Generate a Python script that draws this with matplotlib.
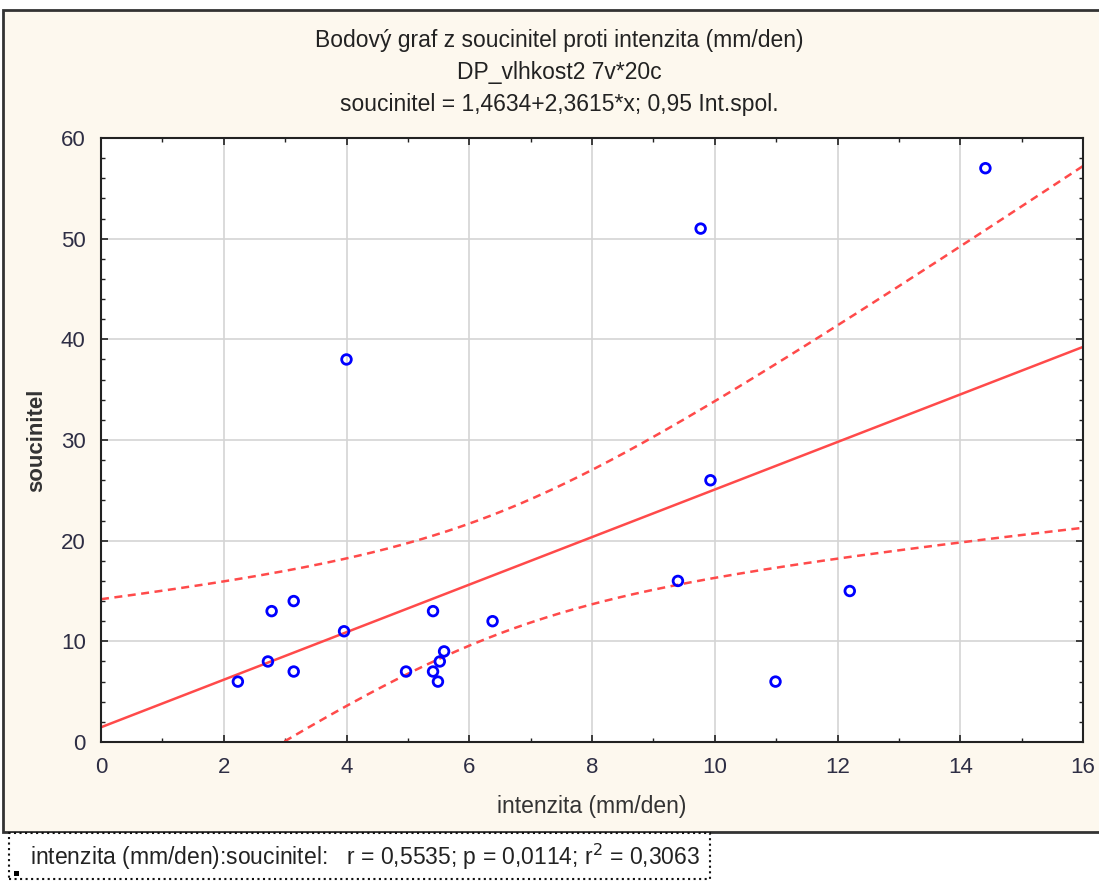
import numpy as np
import matplotlib.pyplot as plt
from matplotlib.patches import Rectangle
from matplotlib.ticker import MultipleLocator

# data (20 cases)
intenzita = [2.23, 2.72, 2.78, 3.14, 3.14, 3.96, 4.0, 4.97, 5.41, 5.41,
             5.49, 5.52, 5.59, 6.38, 9.40, 9.77, 9.93, 10.99, 12.2, 14.41]
soucinitel = [6, 8, 13, 14, 7, 11, 38, 7, 13, 7,
              6, 8, 9, 12, 16, 51, 26, 6, 15, 57]

# coefficients from the chart title
b0, b1 = 1.4634, 2.3615

plt.rcParams['font.family'] = ['Liberation Sans', 'DejaVu Sans']

x = np.array(intenzita)
y = np.array(soucinitel)
n = len(x)

# 95% confidence band of the mean
xs = np.linspace(0, 16, 200)
yfit = b0 + b1 * xs
resid = y - (b0 + b1 * x)
s = np.sqrt(np.sum(resid ** 2) / (n - 2))
sxx = np.sum((x - x.mean()) ** 2)
t = 2.1009
half = t * s * np.sqrt(1 / n + (xs - x.mean()) ** 2 / sxx)

fig = plt.figure(figsize=(10.99, 8.82), dpi=100)
fig.patch.set_facecolor('white')

# cream panel with border
fig.patches.append(Rectangle((3 / 1099, 1 - 832 / 882), 1.1, (832 - 10) / 882,
                             transform=fig.transFigure, facecolor='#fdf8ee',
                             edgecolor='#333333', linewidth=2, zorder=-10))

ax = fig.add_axes([101 / 1099, 1 - 742 / 882, (1083 - 101) / 1099, (742 - 138) / 882])
ax.set_facecolor('white')

red = '#ff4a4a'
ax.plot(xs, yfit, color=red, linewidth=1.8)
ax.plot(xs, yfit + half, color=red, linewidth=1.8, linestyle=(0, (3.2, 2.2)))
ax.plot(xs, yfit - half, color=red, linewidth=1.8, linestyle=(0, (3.2, 2.2)))
ax.scatter(x, y, s=48, facecolors='none', edgecolors='#0000ff', linewidths=2, zorder=3)

ax.set_xlim(0, 16)
ax.set_ylim(0, 60)
ax.xaxis.set_major_locator(MultipleLocator(2))
ax.xaxis.set_minor_locator(MultipleLocator(1))
ax.yaxis.set_major_locator(MultipleLocator(10))
ax.yaxis.set_minor_locator(MultipleLocator(2))
ax.grid(True, which='major', color='#d4d4d4', linewidth=1.2)
ax.set_axisbelow(True)
ax.tick_params(which='both', direction='in', top=True, right=True, color='#222222')
ax.tick_params(which='major', length=5, width=1.2)
ax.tick_params(which='minor', length=3, width=1)
ax.tick_params(axis='both', labelsize=16, labelcolor='#2e2e44')
ax.tick_params(axis='y', pad=11)
ax.tick_params(axis='x', pad=11)
for sp in ax.spines.values():
    sp.set_linewidth(1.5)
    sp.set_color('#222222')

ax.set_xlabel('intenzita (mm/den)', fontsize=16.5, color='#333333', labelpad=12)
ax.set_ylabel('soucinitel', fontsize=16, color='#333333', labelpad=10, fontweight='bold')

fig.text(559 / 1099, 1 - 40 / 882, 'Bodový graf z soucinitel proti intenzita (mm/den)',
         ha='center', va='center', fontsize=16.5, color='#222222')
fig.text(559 / 1099, 1 - 72 / 882, 'DP_vlhkost2 7v*20c',
         ha='center', va='center', fontsize=16.5, color='#222222')
fig.text(559 / 1099, 1 - 104 / 882, 'soucinitel = 1,4634+2,3615*x; 0,95 Int.spol.',
         ha='center', va='center', fontsize=16.5, color='#222222')

# stats box
fig.patches.append(Rectangle((9 / 1099, 1 - 879 / 882), 701 / 1099, 46 / 882,
                             transform=fig.transFigure, facecolor='white',
                             edgecolor='#111111', linewidth=1.5, linestyle=':', zorder=2))
fig.patches.append(Rectangle((14 / 1099, 1 - 876 / 882), 5 / 1099, 5 / 882,
                             transform=fig.transFigure, facecolor='black', zorder=3))
fig.text(30 / 1099, 1 - 857 / 882,
         'intenzita (mm/den):soucinitel:   r = 0,5535; p = 0,0114; r$^2$ = 0,3063',
         ha='left', va='center', fontsize=16.5, color='#222222', zorder=4)

fig.savefig('out.png', dpi=100)
